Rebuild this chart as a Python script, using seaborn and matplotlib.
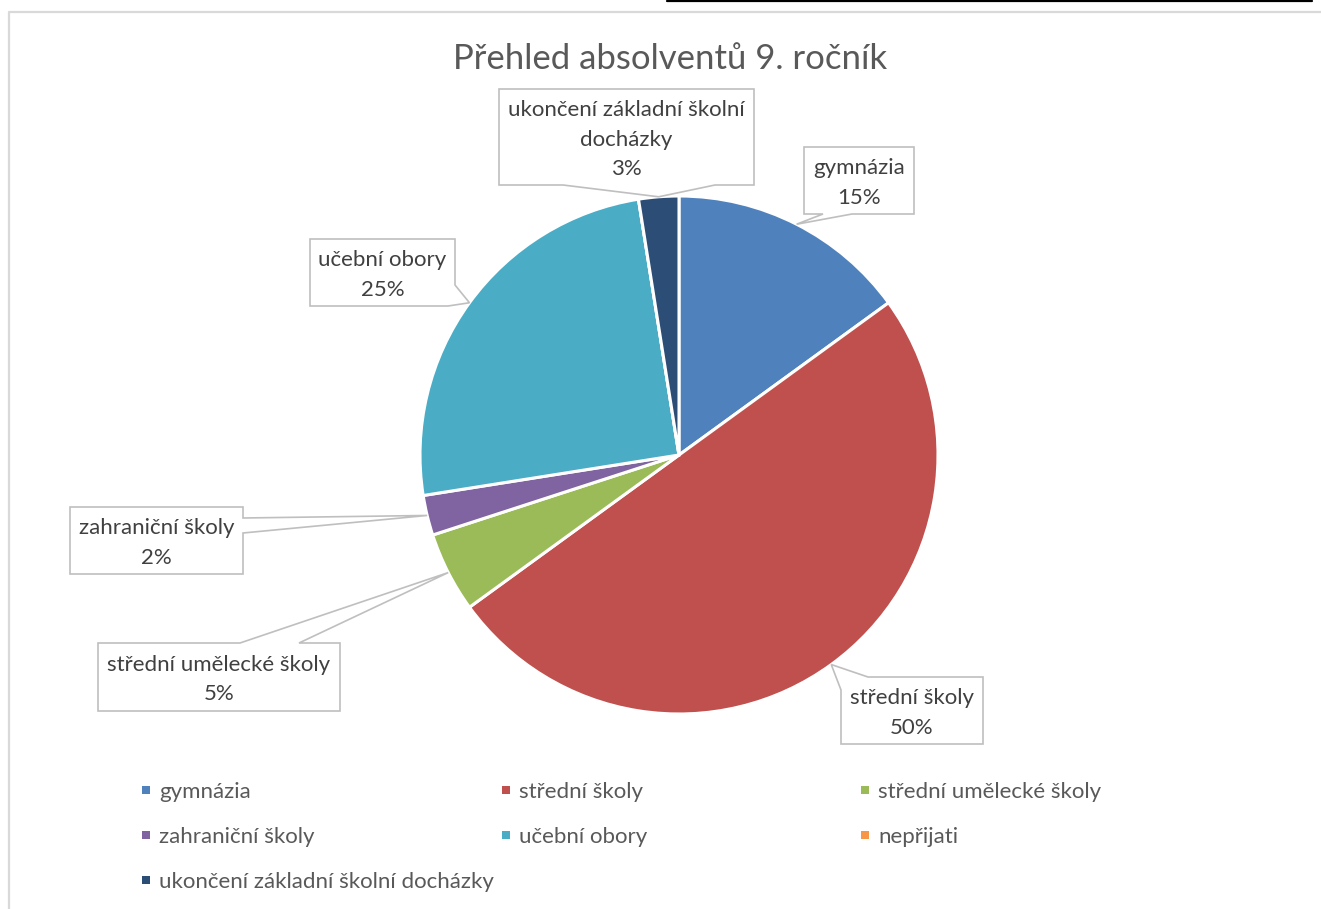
import numpy as np
import matplotlib
matplotlib.use('Agg')
import matplotlib.pyplot as plt
import seaborn as sns
from matplotlib.patches import Polygon, Rectangle

# =============================================================================
# Data
# =============================================================================
title = 'Přehled absolventů 9. ročník'
categories = ['gymnázia', 'střední školy', 'střední umělecké školy',
              'zahraniční školy', 'učební obory', 'nepřijati',
              'ukončení základní školní docházky']
counts = [6, 20, 2, 1, 10, 0, 1]
# percentages as Excel shows them (rounded so they sum to 100)
pct_labels = ['15%', '50%', '5%', '2%', '25%', '0%', '3%']
label_names = ['gymnázia', 'střední školy', 'střední umělecké školy',
               'zahraniční školy', 'učební obory', 'nepřijati',
               'ukončení základní školní\ndocházky']
colors = ['#4F81BD', '#C0504D', '#9BBB59', '#8064A2', '#4BACC6', '#F79646', '#2C4D75']

# =============================================================================
# Layout (pixels, image coordinates y down)
# =============================================================================
W, H = 1321, 909
cx, cy, r = 679, 455, 259

# box (x0, y0, x1, y1), two base points of the pointer
callouts = {
    0: ((804, 147, 914, 214), (852, 214), (823, 214)),
    1: ((841, 677, 983, 744), (841, 690), (868, 677)),
    2: ((98, 643, 340, 711), (240, 643), (299, 643)),
    3: ((70, 507, 243, 574), (243, 518), (243, 533)),
    4: ((310, 239, 455, 306), (455, 285), (448, 306)),
    6: ((499, 89, 754, 185), (563, 185), (715, 185)),
}

legend_x = [146, 506, 865]
legend_y = [790, 835, 880]


def up(p):
    return (p[0], H - p[1])


def perim(box, p):
    x0, y0, x1, y1 = box
    w, h = x1 - x0, y1 - y0
    x, y = p
    if y == y0:
        return x - x0
    if x == x1:
        return w + (y - y0)
    if y == y1:
        return w + h + (x1 - x)
    return -(y - y0)


def outline(box, b1, b2, tip):
    x0, y0, x1, y1 = box
    w, h = x1 - x0, y1 - y0
    corners = [(-h, (x0, y1)), (0, (x0, y0)), (w, (x1, y0)), (w + h, (x1, y1))]
    s1, s2 = perim(box, b1), perim(box, b2)
    if s1 > s2:
        b1, b2 = b2, b1
        s1, s2 = s2, s1
    pts = [up(c) for s, c in corners if s <= s1]
    pts += [up(b1), tip, up(b2)]
    pts += [up(c) for s, c in corners if s >= s2]
    return pts


sns.set_theme(style='white')
plt.rcParams['font.family'] = ['Lato', 'DejaVu Sans']

fig = plt.figure(figsize=(W / 100, H / 100), dpi=100)
fig.patch.set_facecolor('white')
ax = fig.add_axes([0, 0, 1, 1])

palette = sns.color_palette(colors)
wedges, _ = ax.pie(counts, colors=palette, startangle=90, counterclock=False,
                   center=(cx, H - cy), radius=r,
                   wedgeprops=dict(edgecolor='white', linewidth=2.2))
ax.set_xlim(0, W)
ax.set_ylim(0, H)
ax.set_aspect('auto')
ax.axis('off')

# Callout labels
for i, (box, b1, b2) in callouts.items():
    wd = wedges[i]
    mid = np.deg2rad((wd.theta1 + wd.theta2) / 2)
    tip = (cx + r * np.cos(mid), (H - cy) + r * np.sin(mid))
    poly = Polygon(outline(box, b1, b2, tip), closed=True, facecolor='white',
                   edgecolor='#BFBFBF', linewidth=1.2, zorder=5)
    ax.add_patch(poly)
    lines = label_names[i].split('\n') + [pct_labels[i]]
    bx = (box[0] + box[2]) / 2
    by = (box[1] + box[3]) / 2
    n = len(lines)
    for k, line in enumerate(lines):
        yc = by + (k - (n - 1) / 2) * 29.5
        ax.text(bx, H - (yc + 8.5), line, ha='center', va='baseline',
                fontsize=16, color='#404040', zorder=6)

# Title
ax.text(670, H - 69, title, ha='center', va='baseline', fontsize=25, color='#595959')

# Legend
for i, name in enumerate(categories):
    col, row = i % 3, i // 3
    mx, my = legend_x[col], legend_y[row]
    ax.add_patch(Rectangle((mx - 4, H - my - 4), 8, 8, facecolor=colors[i],
                           edgecolor='none'))
    ax.text(mx + 13, H - (my + 8), name, ha='left', va='baseline',
            fontsize=16, color='#595959')

# chart border and top line
ax.plot([9, 9, W + 5], [-5, H - 12, H - 12], color='#D9D9D9', linewidth=1.6,
        clip_on=False)
ax.plot([667, 1312], [H - 1, H - 1], color='black', linewidth=1.6, clip_on=False)

plt.savefig('out.png', dpi=100)
